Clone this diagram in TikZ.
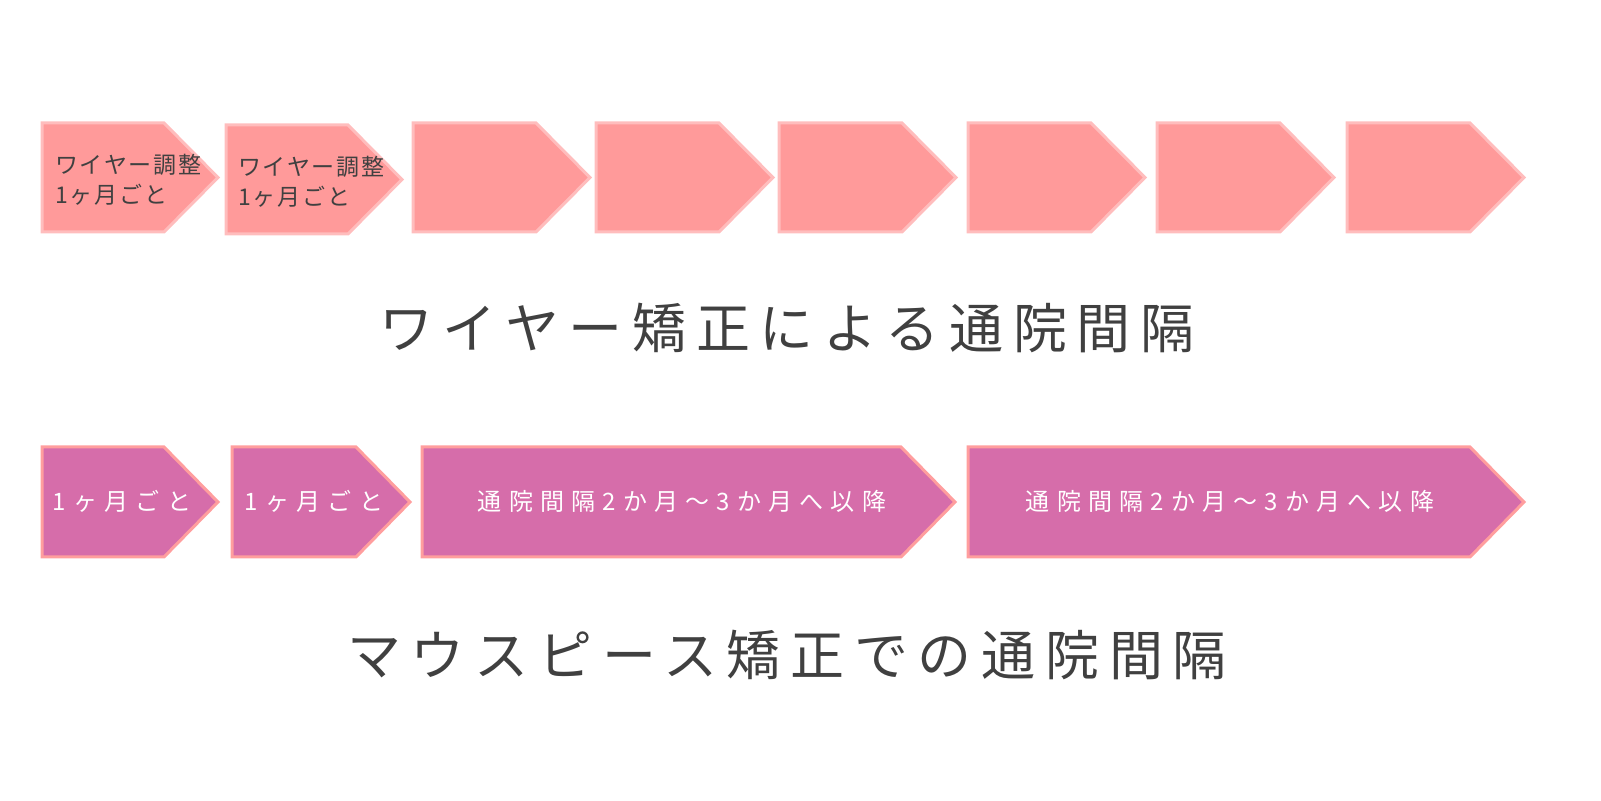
\documentclass[tikz,border=0pt]{standalone}
\usepackage{fontspec}
\setmainfont{Noto Sans CJK JP}
\newfontfamily\spfont[LetterSpace=18]{Noto Sans CJK JP}
\newfontfamily\spsmall[LetterSpace=30]{Noto Sans CJK JP}
\newfontfamily\spbox[LetterSpace=8]{Noto Sans CJK JP}
\definecolor{topf}{HTML}{FF9A9A}
\definecolor{topd}{HTML}{FFBDBD}
\definecolor{botf}{HTML}{D66DAA}
\definecolor{botd}{HTML}{FF9E9E}
\definecolor{ink}{HTML}{404040}
\newcommand{\arrowshape}[5]{\draw[#1] (#2,#4) -- (#3-54,#4) -- (#3,{(#4+#5)/2}) -- (#3-54,#5) -- (#2,#5) -- cycle;}
\tikzset{toparr/.style={fill=topf,draw=topd,line width=1.5pt},
botarr/.style={fill=botf,draw=botd,line width=1.5pt},
small/.style={text=ink,font=\spbox\fontsize{11.5}{15}\selectfont,align=left,anchor=west},
wsmall/.style={text=white,font=\spsmall\fontsize{12}{14}\selectfont},
title/.style={text=ink,font=\spfont\fontsize{27}{30}\selectfont}}
\begin{document}
\begin{tikzpicture}[x=0.5pt,y=-0.5pt]
\useasboundingbox (0,0) rectangle (1601,801);
\arrowshape{toparr}{42}{218}{123}{232}
\arrowshape{toparr}{226}{402}{125}{234}
\foreach \a/\b in {413/590,596/773,779/956,968/1145,1157/1334,1347/1524}{\arrowshape{toparr}{\a}{\b}{123}{232}}
\node[small] (t1) at (48,180) {ワイヤー調整\\1ヶ月ごと};
\node[small] (t2) at (231,182) {ワイヤー調整\\1ヶ月ごと};
\node[title] (title1) at (787,328) {ワイヤー矯正による通院間隔};
\arrowshape{botarr}{42}{218}{447}{557}
\arrowshape{botarr}{232}{410}{447}{557}
\arrowshape{botarr}{422}{955}{447}{557}
\arrowshape{botarr}{968}{1524}{447}{557}
\node[wsmall] (b1) at (122,501) {1ヶ月ごと};
\node[wsmall] (b2) at (314,501) {1ヶ月ごと};
\node[wsmall] (b3) at (682,501) {通院間隔2か月～3か月へ以降};
\node[wsmall] (b4) at (1230,501) {通院間隔2か月～3か月へ以降};
\node[title] (title2) at (787,655) {マウスピース矯正での通院間隔};
\end{tikzpicture}
\end{document}
